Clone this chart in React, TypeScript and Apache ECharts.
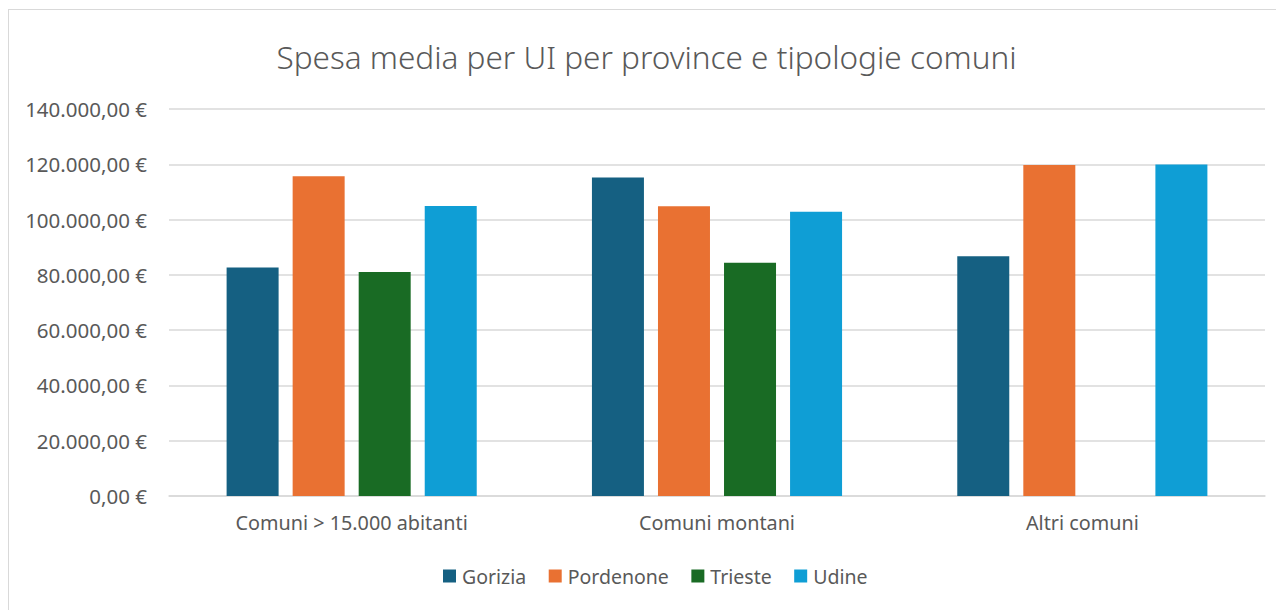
import React, { useEffect, useRef } from "react";
import * as echarts from "echarts";

const categories = ["Comuni > 15.000 abitanti", "Comuni montani", "Altri comuni"];
const gorizia = [82700, 115200, 86700];
const pordenone = [115700, 104800, 119700];
const trieste: (number | null)[] = [81000, 84400, null];
const udine = [104900, 102800, 119900];
const seriesNames = ["Gorizia", "Pordenone", "Trieste", "Udine"];
const colors = ["#156082", "#E97132", "#196B24", "#0F9ED5"];

const fmt = (v: number) => {
  const s = Math.round(v).toString().replace(/\B(?=(\d{3})+(?!\d))/g, ".");
  return s + ",00 €";
};

export default function App() {
  const ref = useRef<HTMLDivElement>(null);
  useEffect(() => {
    if (!ref.current) return;
    const chart = echarts.init(ref.current, undefined, { renderer: "svg" });
    const font = "Noto Sans";
    const data = [gorizia, pordenone, trieste, udine];
    chart.setOption({
      animation: false,
      backgroundColor: "#ffffff",
      title: {
        text: "Spesa media per UI per province e tipologie comuni",
        left: "center",
        top: 25,
        textStyle: { fontFamily: font, fontSize: 31.5, fontWeight: 300, color: "#595959" },
      },
      legend: {
        bottom: 20,
        left: 429,
        itemWidth: 13,
        itemHeight: 13,
        itemGap: 22.5,
        icon: "rect",
        textStyle: { fontFamily: font, fontSize: 19.5, color: "#595959", padding: [0, 0, 0, 1] },
        data: seriesNames,
      },
      grid: { left: 160, right: 19, top: 99, bottom: 115, containLabel: false },
      xAxis: {
        type: "category",
        data: categories,
        axisLine: { lineStyle: { color: "#d9d9d9", width: 1.5 } },
        axisTick: { show: false },
        axisLabel: { fontFamily: font, fontSize: 19.8, color: "#595959", margin: 16 },
      },
      yAxis: {
        type: "value",
        min: 0,
        max: 140000,
        interval: 20000,
        axisLine: { show: false },
        axisTick: { show: false },
        splitLine: { lineStyle: { color: "#d9d9d9", width: 1.5 } },
        axisLabel: {
          fontFamily: font,
          fontSize: 20.5,
          color: "#595959",
          margin: 22,
          formatter: (v: number) => fmt(v),
        },
      },
      series: seriesNames.map((name, i) => ({
        name,
        type: "bar",
        data: data[i],
        barWidth: 52,
        barGap: "27%",
        itemStyle: { color: colors[i] },
      })),
    });
    return () => chart.dispose();
  }, []);
  return (
    <div
      ref={ref}
      style={{
        width: 1275,
        height: 601,
        borderLeft: "1px solid #d9d9d9",
        borderTop: "1px solid #d9d9d9",
        marginTop: 1,
      }}
    />
  );
}
